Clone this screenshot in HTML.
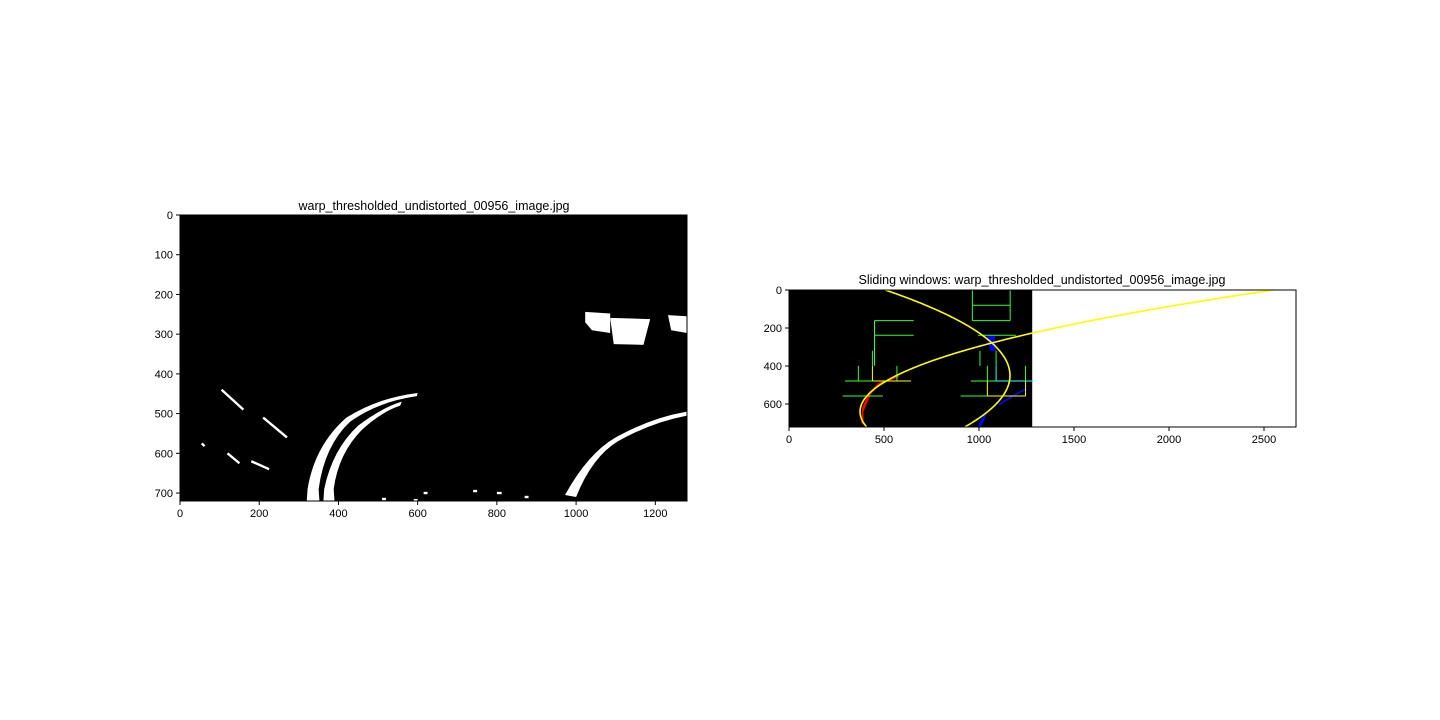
<!DOCTYPE html>
<html><head><meta charset="utf-8"><style>
body{margin:0;background:#fff}
svg{display:block;font-family:"Liberation Sans",sans-serif}
text{font-size:11px;fill:#000}
.t{font-size:12.5px}
</style></head><body>
<svg id="s" width="1440" height="720" viewBox="0 0 1440 720">
<rect width="1440" height="720" fill="#fff"/>
<g>
<text class="t" x="434" y="210" text-anchor="middle">warp_thresholded_undistorted_00956_image.jpg</text>
<g transform="translate(180,215) scale(0.3961,0.3972)">
<rect width="1280" height="720" fill="#000"/>
<g fill="#fff" stroke="none">
<path d="M320,720 L322,690 Q340,580 420,510 Q500,460 600,448 L598,456 Q500,470 430,520 Q365,580 350,690 L352,720Z"/>
<path d="M362,720 L364,690 Q385,590 450,530 Q510,485 560,470 L556,480 Q510,495 460,540 Q400,600 388,690 L390,720Z"/>
<path d="M972,705 Q1030,600 1100,560 Q1190,510 1280,495 L1280,505 Q1190,522 1105,570 Q1040,610 1000,710Z"/>
<path d="M1023,244 L1086,248 L1086,297 L1040,290 L1023,270Z"/>
<path d="M1086,259 L1187,262 L1170,327 L1095,325Z"/>
<path d="M1232,252 L1280,255 L1280,297 L1240,290Z"/>
</g>
<g stroke="#fff" stroke-width="6" fill="none">
<path d="M105,440 L160,490"/><path d="M210,510 L270,560"/><path d="M120,600 L150,625"/><path d="M180,620 L225,640"/><path d="M55,575 L62,582"/>
<path d="M510,715 L520,715"/><path d="M615,700 L625,700"/><path d="M740,695 L750,695"/><path d="M800,700 L812,700"/><path d="M870,710 L880,710"/><path d="M590,718 L600,718"/>
</g>
</g>
<rect x="180" y="215" width="507" height="286" fill="none" stroke="#000" stroke-width="1"/>
<g id="lticks"></g>
</g>
<g>
<text class="t" x="1042" y="284" text-anchor="middle">Sliding windows: warp_thresholded_undistorted_00956_image.jpg</text>
<g transform="translate(789,290) scale(0.19)">
<rect width="1280" height="720" fill="#000"/>
<g fill="#00f">
<path d="M1040,240 L1085,240 L1085,280 L1090,320 L1060,320 L1050,280Z"/>
<path d="M995,720 L1010,680 L1045,640 L1030,680 L1010,720Z"/>
<path d="M1100,600 L1200,540 L1250,515 L1250,525 L1200,550 L1110,605Z"/>
</g>
<g fill="#f00"><path d="M380,700 L385,620 L420,540 L470,490 L580,450 L575,460 L470,500 L430,550 L392,640 L392,710Z"/></g>
<g id="wins"></g>
<g id="fits"></g>
</g>
<rect x="789" y="290" width="507" height="137" fill="none" stroke="#000" stroke-width="1"/>
<g id="rticks"></g>
</g>
</svg>
<script>
const leftXTicks=[0,200,400,600,800,1000,1200];
const leftYTicks=[0,100,200,300,400,500,600,700];
const rightXTicks=[0,500,1000,1500,2000,2500];
const rightYTicks=[0,200,400,600];
const leftFit=[0.00531,640,374];
const rightFit=[-0.00324,450,1163];
const winSegs=[
[450,161,450,399,'g'],[450,161,656,161,'g'],[450,238,656,238,'g'],[439,320,439,399,'g'],
[365,399,365,479,'g'],[568,399,568,479,'g'],[295,479,439,479,'g'],[439,479,642,479,'y'],[439,399,439,479,'y'],[282,558,494,558,'g'],
[965,0,965,161,'g'],[1164,0,1164,161,'g'],[965,80,1164,80,'g'],[965,161,1164,161,'g'],
[995,238,1194,238,'g'],[1005,320,1005,399,'g'],[1090,320,1090,399,'g'],[1090,399,1090,479,'c'],
[1044,399,1044,479,'g'],[1245,399,1245,479,'g'],[956,479,1090,479,'g'],[1090,479,1290,479,'c'],
[1044,479,1044,558,'y'],[1245,479,1245,558,'y'],[1044,558,1245,558,'y'],[903,558,1044,558,'g']
];
const NS='http://www.w3.org/2000/svg';
const col={g:'#3f3',y:'#ff0',c:'#3ff'};
function mk(t,a,p){const e=document.createElementNS(NS,t);for(const k in a)e.setAttribute(k,a[k]);p.appendChild(e);return e;}
const lx=v=>180+v*507/1280, ly=v=>215+v*286/720;
const rx=v=>789+v*0.19, ry=v=>290+v*0.19;
function ticks(g,xs,ys,fx,fy,y0,x0){
 const G=document.getElementById(g);
 xs.forEach(v=>{const X=fx(v);
  const l=mk('line',{x1:X,x2:X,y1:y0,y2:y0+4,stroke:'#000'},G);
  
  
  const t=mk('text',{x:X,y:y0+16,'text-anchor':'middle'},G);t.textContent=v;
  
  });
 ys.forEach(v=>{const Y=fy(v);
  const l=mk('line',{x1:x0-4,x2:x0,y1:Y,y2:Y,stroke:'#000'},G);
  
  
  const t=mk('text',{x:x0-7,y:Y+4,'text-anchor':'end'},G);t.textContent=v;
  
  });
}
ticks('lticks',leftXTicks,leftYTicks,lx,ly,501,180);
ticks('rticks',rightXTicks,rightYTicks,rx,ry,427,789);
const W=document.getElementById('wins');
winSegs.forEach(s=>{const l=mk('line',{x1:s[0],y1:s[1],x2:s[2],y2:s[3],stroke:col[s[4]],'stroke-width':1,'vector-effect':'non-scaling-stroke'},W);
 
 });
const F=document.getElementById('fits');
[leftFit,rightFit].forEach((f,i)=>{let d='';for(let y=0;y<=720;y+=5){const x=f[2]+f[0]*(y-f[1])*(y-f[1]);d+=(y?'L':'M')+x.toFixed(1)+','+y;}
 const p=mk('path',{d:d,stroke:'#ff0',fill:'none','stroke-width':1.6,'vector-effect':'non-scaling-stroke'},F);
 
 });
</script>
</body></html>
